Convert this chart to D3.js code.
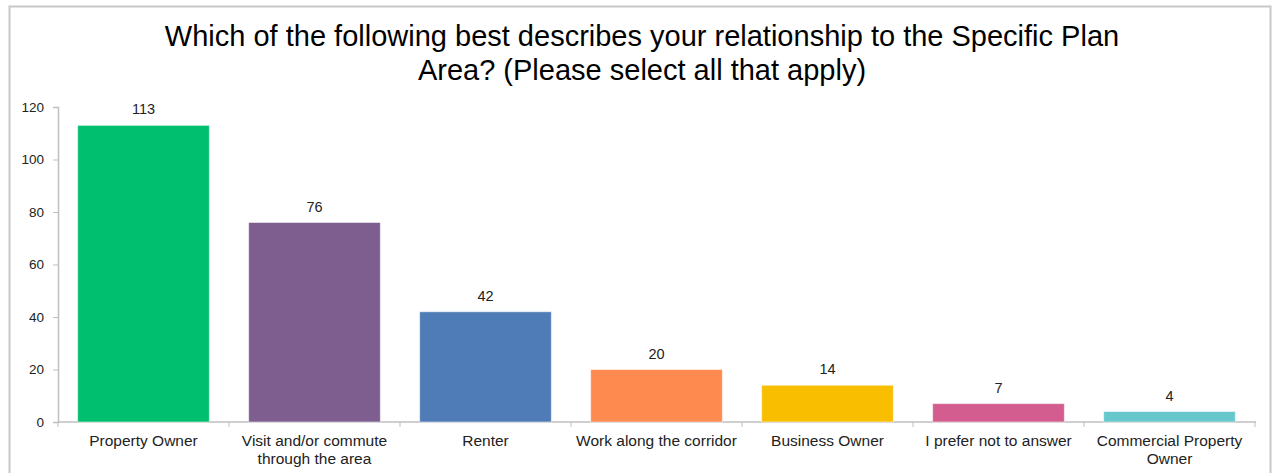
<!DOCTYPE html>
<html>
<head>
    <meta charset="utf-8">
    <title>Relationship to Specific Plan Area</title>
    <script src="https://d3js.org/d3.v7.min.js"></script>
    <style>
        body { margin: 0; background: #fff; }
        text { font-family: "Liberation Sans", Arial, sans-serif; fill: #222; }
    </style>
</head>
<body>
    <div id="chart"></div>
    <script>
        // data
        var categories = ["Property Owner", "Visit and/or commute through the area", "Renter",
            "Work along the corridor", "Business Owner", "I prefer not to answer", "Commercial Property Owner"];
        var labelLines = [["Property Owner"], ["Visit and/or commute", "through the area"], ["Renter"],
            ["Work along the corridor"], ["Business Owner"], ["I prefer not to answer"], ["Commercial Property", "Owner"]];
        var counts = [113, 76, 42, 20, 14, 7, 4];
        var colors = ["#00bf6f", "#7d5e8f", "#4f7bb6", "#ff8a50", "#f9be00", "#d35d8e", "#66c8cb"];
        var yTicks = [0, 20, 40, 60, 80, 100, 120];

        var W = 1273, H = 473;
        var svg = d3.select("#chart").append("svg")
            .attr("width", W).attr("height", H);

        // chart frame
        svg.append("rect")
            .attr("x", 9.5).attr("y", 6.5)
            .attr("width", 1261).attr("height", 480)
            .attr("fill", "none").attr("stroke", "#c8c8c8").attr("stroke-width", 2);

        // title
        var title = svg.append("text")
            .attr("text-anchor", "middle")
            .style("font-size", "29px")
            .style("fill", "#000");
        title.append("tspan").attr("x", 642).attr("y", 46)
            .text("Which of the following best describes your relationship to the Specific Plan");
        title.append("tspan").attr("x", 642).attr("y", 80)
            .text("Area? (Please select all that apply)");

        var x = d3.scaleBand()
            .domain(categories)
            .range([58, 1255])
            .paddingInner(0.23)
            .paddingOuter(0.115);

        var y = d3.scaleLinear()
            .domain([0, 120])
            .range([422, 107]);

        // y axis
        var yAxis = svg.append("g")
            .attr("transform", "translate(58,0)")
            .call(d3.axisLeft(y).tickValues(yTicks).tickSize(5).tickPadding(9));
        yAxis.select(".domain").attr("stroke", "#bfbfbf").attr("stroke-width", 1.5);
        yAxis.selectAll(".tick line").attr("stroke", "#bfbfbf");
        yAxis.selectAll(".tick text").style("font-size", "13.5px")
            .style("font-family", "'Liberation Sans', Arial, sans-serif").attr("fill", "#222");

        // x axis line and boundary ticks
        svg.append("line")
            .attr("x1", 58).attr("x2", 1256)
            .attr("y1", y(0)).attr("y2", y(0))
            .attr("stroke", "#bfbfbf").attr("stroke-width", 1.5);
        var step = x.step();
        svg.selectAll(".xtick")
            .data(d3.range(categories.length + 1))
            .enter().append("line")
            .attr("class", "xtick")
            .attr("x1", function(i) { return x.range()[0] + i * step; })
            .attr("x2", function(i) { return x.range()[0] + i * step; })
            .attr("y1", y(0)).attr("y2", y(0) + 5)
            .attr("stroke", "#bfbfbf");

        // bars
        svg.selectAll(".bar")
            .data(counts)
            .enter().append("rect")
            .attr("class", "bar")
            .attr("x", function(d, i) { return x(categories[i]); })
            .attr("y", function(d) { return y(d); })
            .attr("width", x.bandwidth())
            .attr("height", function(d) { return y(0) - y(d); })
            .attr("fill", function(d, i) { return colors[i]; })
            .attr("stroke", "rgba(255,255,255,0.5)")
            .attr("stroke-width", 1);

        // value labels
        svg.selectAll(".val")
            .data(counts)
            .enter().append("text")
            .attr("class", "val")
            .attr("text-anchor", "middle")
            .attr("x", function(d, i) { return x(categories[i]) + x.bandwidth() / 2; })
            .attr("y", function(d) { return y(d) - 11; })
            .style("font-size", "14.5px")
            .text(function(d) { return d; });

        // category labels
        var cat = svg.selectAll(".cat")
            .data(labelLines)
            .enter().append("text")
            .attr("class", "cat")
            .attr("text-anchor", "middle")
            .style("font-size", "15.5px");
        cat.each(function(lines, i) {
            var cx = x(categories[i]) + x.bandwidth() / 2;
            d3.select(this).selectAll("tspan")
                .data(lines)
                .enter().append("tspan")
                .attr("x", cx)
                .attr("y", function(d, j) { return 446 + j * 18; })
                .text(function(d) { return d; });
        });
    </script>
</body>
</html>
